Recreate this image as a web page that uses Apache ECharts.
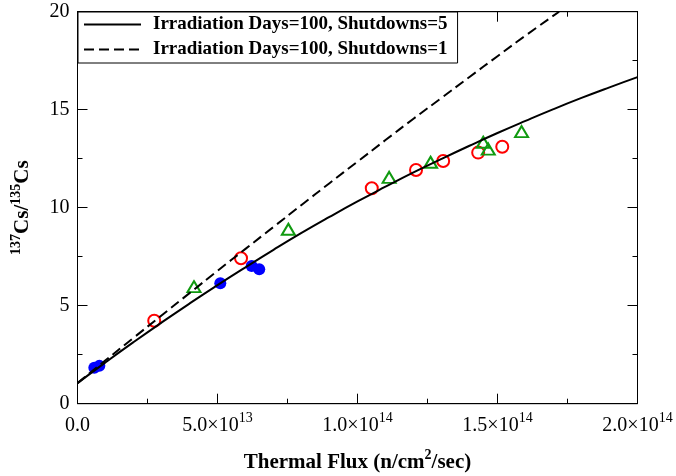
<!DOCTYPE html>
<html><head><meta charset="utf-8">
<script src="https://cdn.jsdelivr.net/npm/echarts@6/dist/echarts.min.js"></script>
<style>html,body{margin:0;padding:0;background:#fff}#c{width:676px;height:476px}</style>
</head><body><div id="c"></div>
<script>
// Model curves (flux in n/cm^2/sec, ratio 137Cs/135Cs)
const curveFlux5 = [0,1e13,2e13,3e13,4e13,5e13,6e13,7e13,8e13,9e13,1e14,1.1e14,1.2e14,1.3e14,1.4e14,1.5e14,1.6e14,1.7e14,1.8e14,1.9e14,2e14];
const ratioShutdowns5 = [1.05,2.11,3.14,4.14,5.11,6.05,6.96,7.85,8.71,9.53,10.32,11.07,11.80,12.49,13.16,13.81,14.43,15.03,15.60,16.14,16.66];
const curveFlux1 = [0,1e13,2e13,3e13,4e13,5e13,6e13,7e13,8e13,9e13,1e14,1.1e14,1.2e14,1.3e14,1.4e14,1.5e14,1.6e14,1.72e14];
const ratioShutdowns1 = [1.05,2.21,3.36,4.50,5.64,6.78,7.90,9.02,10.14,11.25,12.35,13.45,14.54,15.60,16.67,17.73,18.78,20.0];
// Measured points
const blueFlux = [6.0e12,7.8e12,5.1e13,6.22e13,6.49e13];
const blueRatio = [1.83,1.93,6.15,7.03,6.86];
const redFlux = [2.74e13,5.84e13,1.051e14,1.209e14,1.306e14,1.431e14,1.517e14];
const redRatio = [4.23,7.42,10.99,11.92,12.38,12.81,13.11];
const greenFlux = [4.16e13,7.53e13,1.113e14,1.261e14,1.449e14,1.467e14,1.586e14];
const greenRatio = [5.97,8.90,11.55,12.32,13.34,12.99,13.88];
// Tick labels
const xTickBase = ['0.0','5.0×10','1.0×10','1.5×10','2.0×10'];
const xTickExp = ['','13','14','14','14'];
const legendNames = ['Irradiation Days=100, Shutdowns=5','Irradiation Days=100, Shutdowns=1'];

const zip = (a,b) => a.map((v,i)=>[v,b[i]]);
const FONT = 'Liberation Serif, Times New Roman, serif';

const tickCommon = () => ({
  axisLine:{show:true,onZero:false,lineStyle:{color:'#000',width:1}},
  axisTick:{show:true,inside:true,length:10,lineStyle:{color:'#000',width:1}},
  minorTick:{show:true,splitNumber:2,length:5,lineStyle:{color:'#000',width:1}},
  splitLine:{show:false}, minorSplitLine:{show:false}
});
const titleRich = () => ({
  b:{fontFamily:FONT,fontWeight:'bold',fontSize:21,color:'#000',lineHeight:24,verticalAlign:'bottom'},
  s:{fontFamily:FONT,fontWeight:'bold',fontSize:14,color:'#000',lineHeight:14,verticalAlign:'top'}
});

const chart = echarts.init(document.getElementById('c'), null, {renderer:'canvas'});
chart.setOption({
  backgroundColor:'#fff',
  animation:false,
  grid:{left:77.5, top:11.7, width:560, height:392, outerBoundsMode:'none', containLabel:false,
    show:true, borderColor:'#000', borderWidth:1, backgroundColor:'rgba(0,0,0,0)'},
  legend:{
    data:legendNames, orient:'vertical', left:78, top:12,
    padding:[3,10,4,5], itemGap:6, itemWidth:57, itemHeight:19,
    backgroundColor:'#fff', borderColor:'#000', borderWidth:1, borderRadius:0,
    itemStyle:{color:'rgba(0,0,0,0)', borderWidth:0, borderColor:'rgba(0,0,0,0)'},
    textStyle:{fontFamily:FONT, fontWeight:'bold', fontSize:19, color:'#000', lineHeight:19, padding:[0,0,0,7]},
    z:10
  },
  xAxis:[
    Object.assign({type:'value', min:0, max:2e14, interval:5e13, position:'bottom', gridIndex:0,
      name:'{b|Thermal Flux (n/cm}{s|2}{b|/sec)}', nameLocation:'middle', nameGap:45,
      nameTextStyle:{rich:titleRich()},
      axisLabel:{show:true, margin:8,
        formatter:(v)=>{const i=Math.round(v/5e13); return xTickExp[i]?'{b|'+xTickBase[i]+'}{s|'+xTickExp[i]+'}':'{b|'+xTickBase[i]+'}';},
        rich:{
          b:{fontFamily:FONT,fontSize:20,color:'#000',lineHeight:24,verticalAlign:'bottom'},
          s:{fontFamily:FONT,fontSize:14,color:'#000',lineHeight:14,verticalAlign:'top'}}}
    }, tickCommon()),
    Object.assign({type:'value', min:0, max:2e14, interval:5e13, position:'top', gridIndex:0, axisLabel:{show:false}}, tickCommon())
  ],
  yAxis:[
    Object.assign({type:'value', min:0, max:20, interval:5, position:'left', gridIndex:0,
      name:'{s|137}{b|Cs/}{s|135}{b|Cs}', nameLocation:'middle', nameGap:44, nameRotate:90,
      nameTextStyle:{rich:titleRich()},
      axisLabel:{show:true, margin:8, fontFamily:FONT, fontSize:20, color:'#000'}
    }, tickCommon()),
    Object.assign({type:'value', min:0, max:20, interval:5, position:'right', gridIndex:0, axisLabel:{show:false}}, tickCommon())
  ],
  series:[
    {type:'scatter', name:'blue', xAxisIndex:0, yAxisIndex:0, data:zip(blueFlux,blueRatio), symbol:'circle', symbolSize:12,
      itemStyle:{color:'#0000ff', opacity:1}, z:2},
    {type:'scatter', name:'red', xAxisIndex:0, yAxisIndex:0, data:zip(redFlux,redRatio), symbol:'circle', symbolSize:12,
      itemStyle:{color:'rgba(255,255,255,0)', borderColor:'#ff0000', borderWidth:2, opacity:1}, z:2},
    {type:'scatter', name:'green', xAxisIndex:0, yAxisIndex:0, data:zip(greenFlux,greenRatio), symbol:'triangle', symbolSize:[13,11],
      itemStyle:{color:'rgba(255,255,255,0)', borderColor:'#109a10', borderWidth:2, opacity:1}, z:2},
    {type:'line', name:legendNames[0], xAxisIndex:0, yAxisIndex:0, data:zip(curveFlux5,ratioShutdowns5), smooth:true, symbol:'none', showSymbol:false,
      lineStyle:{color:'#000', width:2, type:'solid'}, itemStyle:{color:'#000'}, clip:true, z:3},
    {type:'line', name:legendNames[1], xAxisIndex:0, yAxisIndex:0, data:zip(curveFlux1,ratioShutdowns1), smooth:true, symbol:'none', showSymbol:false,
      lineStyle:{color:'#000', width:2, type:[10,5]}, itemStyle:{color:'#000'}, clip:true, z:3},
    {type:'line', name:'topAxisAnchor', xAxisIndex:1, yAxisIndex:1, data:[], symbol:'none'}
  ]
});
</script></body></html>
